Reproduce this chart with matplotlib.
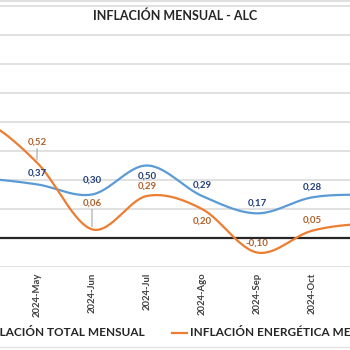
import numpy as np
import matplotlib.pyplot as plt
from matplotlib.lines import Line2D

plt.rcParams['font.family'] = ['Lato', 'DejaVu Sans']

# datos (Abr y Nov quedan fuera del recorte)
months = ['2024-Abr', '2024-May', '2024-Jun', '2024-Jul', '2024-Ago', '2024-Sep', '2024-Oct', '2024-Nov']
total = [0.41, 0.37, 0.30, 0.50, 0.29, 0.17, 0.28, 0.30]
energia = [0.81, 0.52, 0.06, 0.29, 0.20, -0.10, 0.05, 0.10]

BLUE = '#5B9BD5'
ORANGE = '#ED7D31'
BLUE_TXT = '#23407A'
ORANGE_TXT = '#B0622E'


def smooth(y, n=30):
    # curva suavizada tipo Excel (Catmull-Rom)
    y = np.asarray(y, float)
    x = np.arange(len(y), dtype=float)
    p = np.concatenate([[y[0]], y, [y[-1]]])
    xs, ys = [], []
    for i in range(len(y) - 1):
        p0, p1, p2, p3 = p[i], p[i + 1], p[i + 2], p[i + 3]
        t = np.linspace(0, 1, n, endpoint=False)
        c1 = p1 + (p2 - p0) / 6
        c2 = p2 - (p3 - p1) / 6
        yy = (1 - t)**3 * p1 + 3 * (1 - t)**2 * t * c1 + 3 * (1 - t) * t**2 * c2 + t**3 * p2
        xs.append(x[i] + t)
        ys.append(yy)
    xs.append([x[-1]])
    ys.append([y[-1]])
    return np.concatenate(xs), np.concatenate(ys)


fig = plt.figure(figsize=(3.5, 3.5), dpi=100)
ax = fig.add_axes([0, 83 / 350, 1, 267 / 350])

x = np.arange(len(months))
for i in np.arange(-0.2, 1.61, 0.2):
    if abs(i) > 1e-6:
        ax.axhline(i, color='#D9D9D9', lw=1.1, zorder=0)
ax.axhline(0, color='#262626', lw=1.6, zorder=1)

sx, sy = smooth(total)
ax.plot(sx, sy, color=BLUE, lw=1.6, zorder=3)
sx, sy = smooth(energia)
ax.plot(sx, sy, color=ORANGE, lw=1.6, zorder=3)

ax.set_xlim(1 - 37 / 55, 1 + 313 / 55)
ax.set_ylim(-0.2, 238 / 145)

# etiquetas de datos visibles (May..Oct), offset en pixeles
off_total = [11, 11, 14, -11, 11, 10, 10, 11]
off_energia = [20, 20, 26, 10, -12, 9, 11, 11]
leader = {1: True, 2: True}

for i in range(1, 7):
    ax.annotate(f'{total[i]:.2f}'.replace('.', ','), (x[i], total[i]),
                xytext=(0, off_total[i]), textcoords='offset pixels',
                ha='center', va='center', fontsize=7, fontweight='bold',
                color=BLUE_TXT, zorder=5)
    ax.annotate(f'{energia[i]:.2f}'.replace('.', ','), (x[i], energia[i]),
                xytext=(0, off_energia[i]), textcoords='offset pixels',
                ha='center', va='center', fontsize=7, fontweight='bold',
                color=ORANGE_TXT, zorder=5)
    if i in leader:
        ax.annotate('', (x[i], energia[i]), xytext=(0, off_energia[i] - 6),
                    textcoords='offset pixels',
                    arrowprops=dict(arrowstyle='-', color='#A6A6A6', lw=0.8,
                                    shrinkA=0, shrinkB=2), zorder=2)

ax.set_xticks(x[1:7])
ax.set_xticklabels(months[1:7], rotation=90, fontsize=6.8, fontweight='bold', color='#404040')
ax.tick_params(axis='x', length=0, pad=4)
ax.set_yticks([])
for s in ax.spines.values():
    s.set_visible(False)

fig.text(0.5, 1 - 16 / 350, 'INFLACIÓN MENSUAL - ALC', ha='center', va='center',
         fontsize=9, fontweight='bold', color='#262626')

# leyenda
ly = 1 - 333 / 350
fig.text(145 / 350, ly, 'INFLACIÓN TOTAL MENSUAL', ha='right', va='center',
         fontsize=8.5, fontweight='bold', color='#262626')
fig.add_artist(Line2D([172 / 350, 187 / 350], [ly, ly], color=ORANGE, lw=1.6))
fig.text(190 / 350, ly, 'INFLACIÓN ENERGÉTICA MENSUAL', ha='left', va='center',
         fontsize=8.5, fontweight='bold', color='#262626')

fig.add_artist(Line2D([0, 1], [1 - 1 / 350, 1 - 1 / 350], color='#D9D9D9', lw=1.1))
fig.add_artist(Line2D([0, 1], [1 - 347 / 350, 1 - 347 / 350], color='#E3E3E3', lw=1.0))

fig.savefig('out.png', dpi=100)
